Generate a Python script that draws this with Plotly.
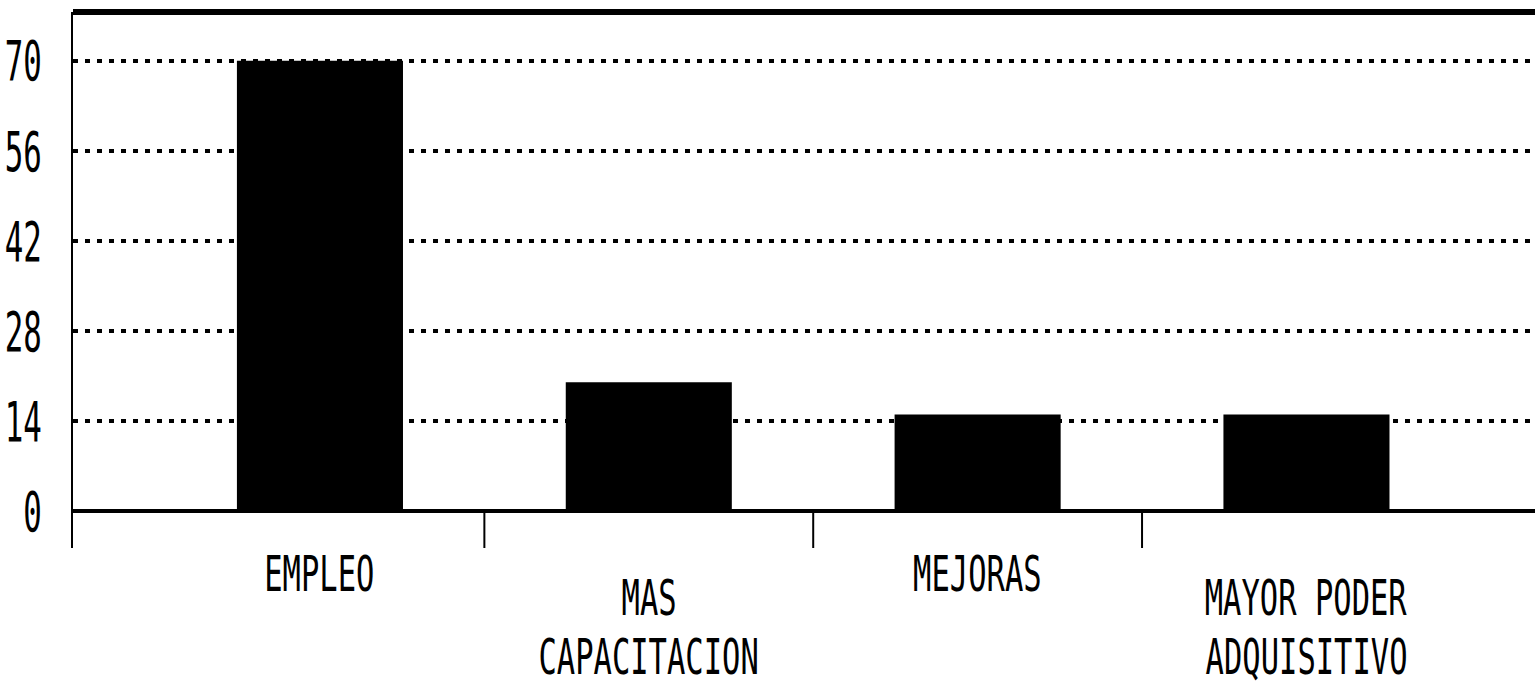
import plotly.graph_objects as go

# Survey results: what respondents expect most
categories = ["EMPLEO", "MAS<br>CAPACITACION", "MEJORAS", "MAYOR PODER<br>ADQUISITIVO"]
values = [70, 20, 15, 15]
y_ticks = [0, 14, 28, 42, 56, 70]
label_rows = [0, 1, 0, 1]  # category labels alternate between two rows

FONT = "DejaVu Sans Mono, Liberation Mono, monospace"
TICK_SIZE = 56
LABEL_SIZE = 50
TICK_SQUEEZE = 0.55     # horizontal compression of the printer-style lettering
LABEL_SQUEEZE = 0.61
LINE_PITCH = 59         # px between the two lines of a label
Y_MIN, Y_MAX = -5.76, 77.6
positions = list(range(len(categories)))

fig = go.Figure(
    go.Bar(
        x=positions,
        y=values,
        width=0.505,
        marker=dict(color="black", line=dict(width=0)),
        hoverinfo="skip",
    )
)

# category labels, staggered on two rows under the baseline (one annotation per line)
row_top = {0: -25.5, 1: -50.0}
for pos, label, row in zip(positions, categories, label_rows):
    for k, line in enumerate(label.split("<br>")):
        fig.add_annotation(
            x=pos, xref="x", y=0, yref="paper",
            text=line, showarrow=False,
            xanchor="center", yanchor="middle",
            yshift=row_top[row] - k * LINE_PITCH,
            font=dict(family=FONT, size=LABEL_SIZE, color="black"),
            align="center",
        )

# separators between categories, hanging below the baseline
for i in range(len(categories) - 1):
    fig.add_shape(
        type="line", xref="x", yref="y",
        x0=i + 0.5, x1=i + 0.5, y0=0, y1=Y_MIN,
        line=dict(color="black", width=2),
    )

# heavy frame line along the top
fig.add_shape(
    type="line", xref="paper", yref="paper",
    x0=0, x1=1, y0=1, y1=1,
    line=dict(color="black", width=6),
)

fig.update_layout(
    width=1535, height=688,
    margin=dict(l=73, r=0, t=12, b=140, autoexpand=False),
    paper_bgcolor="white", plot_bgcolor="white",
    showlegend=False,
    xaxis=dict(
        range=[-0.751, 3.695], automargin=False,
        showticklabels=False, showgrid=False, zeroline=False,
        showline=False, ticks="", fixedrange=True,
    ),
    yaxis=dict(
        range=[Y_MIN, Y_MAX], automargin=False,
        tickvals=y_ticks, ticktext=[str(v) for v in y_ticks],
        tickfont=dict(family=FONT, size=TICK_SIZE, color="black"),
        showgrid=True, gridcolor="black", gridwidth=4, griddash="5px,7px",
        zeroline=True, zerolinecolor="black", zerolinewidth=4,
        showline=True, linecolor="black", linewidth=2,
        ticks="", ticklabelstandoff=18, fixedrange=True,
    ),
)

# narrow the lettering horizontally: tick labels keep their right edge,
# category labels keep their centre
squeeze_js = """
var gd = document.getElementById('{plot_id}');
function squeeze(el, k, anchor) {
  var b = el.getBBox();
  var cx = anchor === 'end' ? b.x + b.width : b.x + b.width / 2;
  var t = el.getAttribute('transform') || '';
  el.setAttribute('transform', t + ' translate(' + cx + ',0) scale(' + k + ',1) translate(' + (-cx) + ',0)');
}
gd.querySelectorAll('.ytick text').forEach(function (el) { squeeze(el, %s, 'end'); });
gd.querySelectorAll('.annotation-text').forEach(function (el) { squeeze(el, %s, 'middle'); });
""" % (TICK_SQUEEZE, LABEL_SQUEEZE)

fig.write_html("out.html", config={"displayModeBar": False}, post_script=squeeze_js)
